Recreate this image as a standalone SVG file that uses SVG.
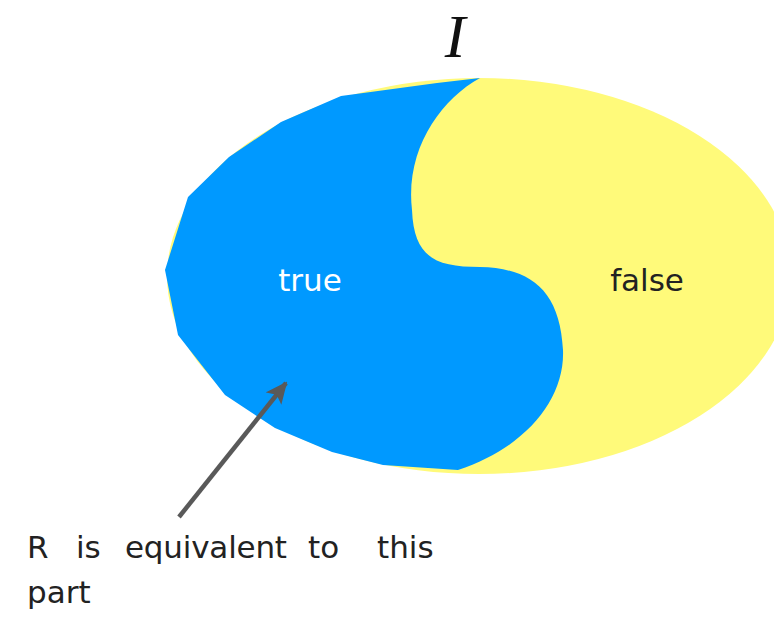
<svg xmlns="http://www.w3.org/2000/svg" width="774" height="617" viewBox="0 0 774 617">
<style>
.lbl{font-family:"DejaVu Sans","Noto Sans",sans-serif;font-size:31px}
.note{font-family:"DejaVu Sans","Noto Sans",sans-serif;font-size:31px;fill:#222}
</style>
<defs>
<marker id="ah" viewBox="0 0 22 20" refX="20" refY="10" markerWidth="22" markerHeight="20" markerUnits="userSpaceOnUse" orient="auto">
<path d="M0,0 L22,10 L0,20 L5,10 Z" fill="#595959"/>
</marker>
</defs>
<rect width="774" height="617" fill="#fff"/>
<g id="false-region">
<ellipse cx="479" cy="276" rx="312" ry="198" fill="#fffa7a"/>
<text class="lbl" x="647" y="291" text-anchor="middle" fill="#222">false</text>
</g>
<g id="true-region">
<path d="M480,78 C440,100 405,150 412,210 C414,258 436,267 480,267 C530,268 560,290 563,350 C565,400 525,448 458,470 L383,465 L332,452 L275,428 L225,395 L178,335 L165,270 L188,197 L229,157 L281,122 L341,96 L437,83 Z" fill="#0099ff"/>
<text class="lbl" x="310" y="291" text-anchor="middle" fill="#fff">true</text>
</g>
<g id="title">
<text x="455" y="57" font-family="Liberation Serif, serif" font-style="italic" font-size="62" text-anchor="middle" fill="#111">I</text>
</g>
<g id="connectors">
<line x1="179" y1="517" x2="286" y2="383" stroke="#595959" stroke-width="4.5" marker-end="url(#ah)"/>
</g>
<g id="note">
<text class="note" x="27" y="558">R</text>
<text class="note" x="76" y="558">is</text>
<text class="note" x="125" y="558" textLength="162">equivalent</text>
<text class="note" x="308" y="558">to</text>
<text class="note" x="377" y="558">this</text>
<text class="note" x="27" y="603">part</text>
</g>
</svg>
